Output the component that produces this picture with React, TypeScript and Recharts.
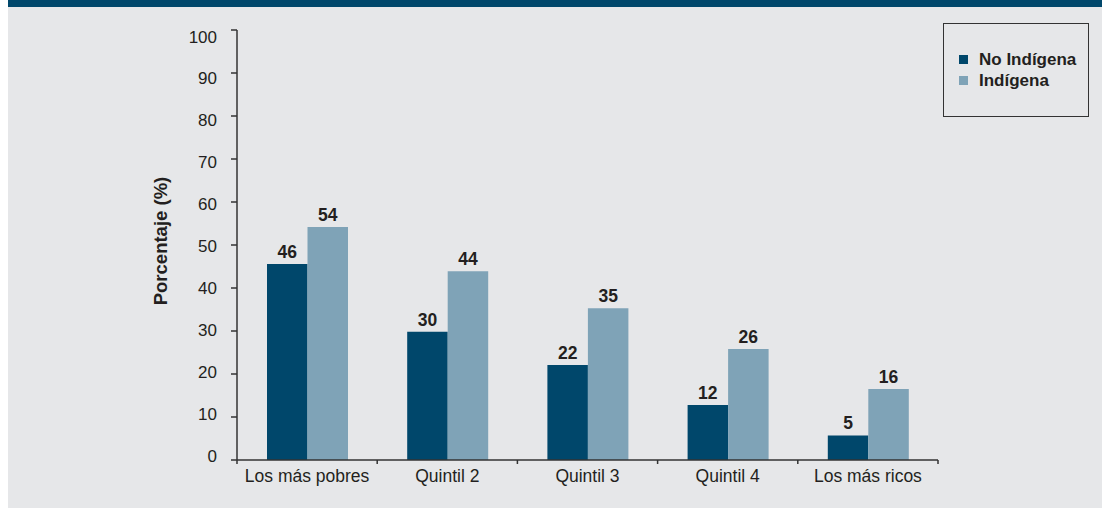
import { BarChart, Bar, XAxis, YAxis, Legend, LabelList, Label } from 'recharts';

// Porcentaje por quintil de riqueza
const categories = ['Los más pobres', 'Quintil 2', 'Quintil 3', 'Quintil 4', 'Los más ricos'];
const noIndigena = [45.6, 29.8, 22.1, 12.8, 5.7];
const indigena = [54.2, 43.9, 35.3, 25.8, 16.5];
const noIndigenaLabels = ['46', '30', '22', '12', '5'];
const indigenaLabels = ['54', '44', '35', '26', '16'];
const yTicks = [0, 10, 20, 30, 40, 50, 60, 70, 80, 90, 100];

const data = categories.map((name, i) => ({
    name,
    noIndigena: noIndigena[i],
    indigena: indigena[i],
    noIndigenaLabel: noIndigenaLabels[i],
    indigenaLabel: indigenaLabels[i],
}));

const COLORS = {
    dark: '#00476b',
    light: '#7fa3b7',
    bg: '#e6e7e9',
    text: '#231f20',
    axis: '#333333',
};

const FONT = '"Liberation Sans", Arial, Helvetica, sans-serif';

const W = 1094;
const H = 508;
const PLOT_LEFT = 229;
const PLOT_RIGHT = 930;
const PLOT_BOTTOM = 460;
const BAND = (PLOT_RIGHT - PLOT_LEFT) / categories.length;

// x-axis: category label plus tick marks at the band edges
function XTick({ x, payload, index }: any) {
    const left = x - BAND / 2;
    const right = x + BAND / 2;
    return (
        <g>
            <line x1={left} y1={PLOT_BOTTOM} x2={left} y2={PLOT_BOTTOM + 4} stroke={COLORS.axis} strokeWidth={1.5} />
            {index === categories.length - 1 && (
                <line x1={right} y1={PLOT_BOTTOM} x2={right} y2={PLOT_BOTTOM + 4} stroke={COLORS.axis} strokeWidth={1.5} />
            )}
            <text x={x} y={PLOT_BOTTOM + 22} textAnchor="middle" fill={COLORS.text} fontSize={17.5} fontFamily={FONT}>
                {payload.value}
            </text>
        </g>
    );
}

// y tick labels sit slightly off the tick marks in the original
function YTick({ x, y, payload }: any) {
    const shift = -3.5 + 0.105 * payload.value;
    return (
        <text x={x} y={y + shift} textAnchor="end" dominantBaseline="central" fill={COLORS.text} fontSize={17} fontFamily={FONT}>
            {payload.value}
        </text>
    );
}

function LegendBox() {
    const items = [
        { label: 'No Indígena', color: COLORS.dark },
        { label: 'Indígena', color: COLORS.light },
    ];
    return (
        <div
            style={{
                width: 146,
                height: 94,
                border: `1.5px solid ${COLORS.axis}`,
                boxSizing: 'border-box',
                paddingTop: 25,
                paddingLeft: 15,
                fontFamily: FONT,
            }}
        >
            {items.map((it) => (
                <div key={it.label} style={{ display: 'flex', alignItems: 'center', height: 21 }}>
                    <span style={{ width: 9, height: 9, background: it.color, marginRight: 11, display: 'inline-block' }} />
                    <span style={{ fontWeight: 700, fontSize: 17, color: COLORS.text }}>{it.label}</span>
                </div>
            ))}
        </div>
    );
}

export default function App() {
    return (
        <div style={{ position: 'absolute', left: 8, top: 0, width: W, height: H, background: COLORS.bg }}>
            <BarChart
                width={W}
                height={H}
                data={data}
                margin={{ top: 30, right: W - PLOT_RIGHT, bottom: 0, left: 0 }}
                barGap={0}
                barSize={40.5}
            >
                <XAxis
                    dataKey="name"
                    height={H - PLOT_BOTTOM}
                    axisLine={{ stroke: COLORS.axis, strokeWidth: 1.5 }}
                    tickLine={false}
                    tick={<XTick />}
                    interval={0}
                />
                <YAxis
                    width={PLOT_LEFT}
                    domain={[0, 100]}
                    ticks={yTicks}
                    interval={0}
                    axisLine={{ stroke: COLORS.axis, strokeWidth: 1.5 }}
                    tickLine={{ stroke: COLORS.axis, strokeWidth: 1.5 }}
                    tickSize={6}
                    tickMargin={14}
                    tick={<YTick />}
                >
                    <Label
                        content={() => (
                            <text
                                x={152}
                                y={241}
                                transform="rotate(-90, 152, 241)"
                                textAnchor="middle"
                                dominantBaseline="central"
                                fill={COLORS.text}
                                fontSize={18.5}
                                fontWeight={700}
                                fontFamily={FONT}
                            >
                                Porcentaje (%)
                            </text>
                        )}
                    />
                </YAxis>
                <Legend
                    layout="horizontal"
                    verticalAlign="middle"
                    align="center"
                    content={<LegendBox />}
                    wrapperStyle={{ position: 'absolute', left: 935, top: 23, width: 146, height: 94 }}
                />
                <Bar dataKey="noIndigena" name="No Indígena" fill={COLORS.dark} isAnimationActive={false}>
                    <LabelList dataKey="noIndigenaLabel" position="top" offset={6} fill={COLORS.text} fontSize={17.5} fontWeight={700} fontFamily={FONT} />
                </Bar>
                <Bar dataKey="indigena" name="Indígena" fill={COLORS.light} isAnimationActive={false}>
                    <LabelList dataKey="indigenaLabel" position="top" offset={6} fill={COLORS.text} fontSize={17.5} fontWeight={700} fontFamily={FONT} />
                </Bar>
            </BarChart>
            <div style={{ position: 'absolute', left: 0, top: 0, width: W, height: 7, background: COLORS.dark, zIndex: 2 }} />
        </div>
    );
}
